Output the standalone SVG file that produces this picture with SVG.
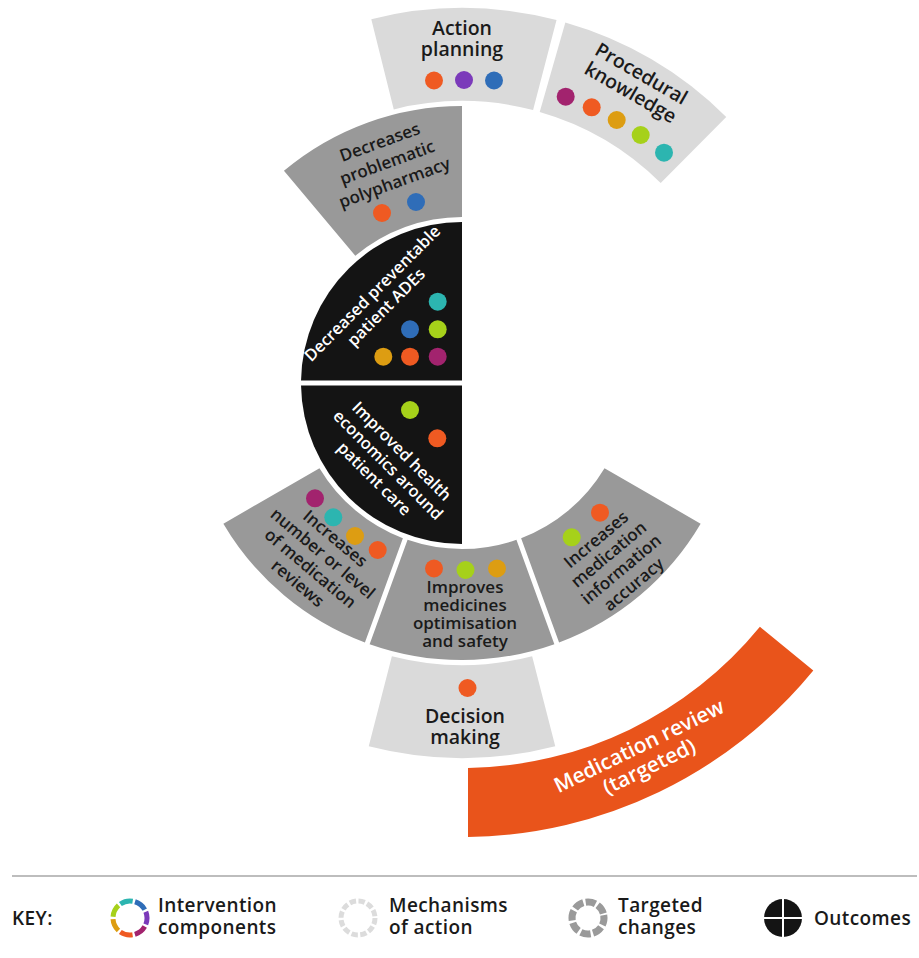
<svg xmlns="http://www.w3.org/2000/svg" width="919" height="958" viewBox="0 0 919 958">
  <style>
    text { font-family: "Open Sans", "Noto Sans", "Liberation Sans", sans-serif; font-weight: 600; text-anchor: middle; fill: #1a1a1a; }
    .mech { font-size: 19.5px; }
    .tgt { font-size: 17px; }
    .out { font-size: 16.5px; fill: #ffffff; }
    .comp { font-size: 21px; fill: #ffffff; }
    .key { font-size: 19px; letter-spacing: 0.4px; text-anchor: start; }
    .f-out { fill: #141414; }
    .f-tgt { fill: #999999; }
    .f-mech { fill: #dadada; }
    .f-comp { fill: #e9541b; }
    .or { fill: #ef5a22; } .pu { fill: #7b3aba; } .bl { fill: #2f6db8; }
    .mg { fill: #a2236e; } .am { fill: #dd9d12; } .li { fill: #a6d11a; } .te { fill: #2cb5b0; }
  </style>

  <!-- Outcomes (inner black half disc) -->
  <g id="outcome-ades">
    <path class="f-out" d="M462,380.5 L301.03,380.5 A161,161 0 0 1 462,222 Z"/>
    <g transform="translate(379,300) rotate(-45)">
      <text class="out" y="-3.8">Decreased preventable</text>
      <text class="out" y="15.7">patient ADEs</text>
    </g>
    <circle class="te" cx="437.7" cy="301.7" r="9"/>
    <circle class="bl" cx="410" cy="329.3" r="9"/>
    <circle class="li" cx="437.7" cy="329.3" r="9"/>
    <circle class="am" cx="383.3" cy="356.7" r="9"/>
    <circle class="or" cx="410" cy="356.7" r="9"/>
    <circle class="mg" cx="437.7" cy="356.7" r="9"/>
  </g>
  <g id="outcome-economics">
    <path class="f-out" d="M462,385.5 L462,544 A161,161 0 0 1 301.03,385.5 Z"/>
    <g transform="translate(388,465) rotate(45)">
      <text class="out" y="-13.8">Improved health</text>
      <text class="out" y="5.7">economics around</text>
      <text class="out" y="25.2">patient care</text>
    </g>
    <circle class="li" cx="410" cy="410" r="9"/>
    <circle class="or" cx="437.3" cy="438.3" r="9"/>
  </g>

  <!-- Targeted changes (dark grey ring) -->
  <g id="change-polypharmacy">
    <path class="f-tgt" d="M355.30,255.84 L283.94,170.82 A277,277 0 0 1 462,106 L462,217 A166,166 0 0 0 355.30,255.84 Z"/>
    <g transform="translate(387,162) rotate(-20)">
      <text class="tgt" y="-15.2">Decreases</text>
      <text class="tgt" y="6.3">problematic</text>
      <text class="tgt" y="27.8">polypharmacy</text>
    </g>
    <circle class="or" cx="382" cy="213" r="9"/>
    <circle class="bl" cx="416" cy="202" r="9"/>
  </g>
  <g id="change-review-level">
    <path class="f-tgt" d="M402.88,538.14 L364.92,642.45 A277,277 0 0 1 223.37,523.67 L319.49,468.17 A166,166 0 0 0 402.88,538.14 Z"/>
    <g transform="translate(316.5,561) rotate(40)">
      <text class="tgt" y="-23.5">Increases</text>
      <text class="tgt" y="-4">number or level</text>
      <text class="tgt" y="15.5">of medication</text>
      <text class="tgt" y="35">reviews</text>
    </g>
    <circle class="mg" cx="315" cy="498.3" r="9"/>
    <circle class="te" cx="333.3" cy="517.3" r="9"/>
    <circle class="am" cx="355" cy="536" r="9"/>
    <circle class="or" cx="377.7" cy="550" r="9"/>
  </g>
  <g id="change-optimisation">
    <path class="f-tgt" d="M516.42,539.85 L554.38,644.15 A277,277 0 0 1 369.62,644.15 L407.58,539.85 A166,166 0 0 0 516.42,539.85 Z"/>
    <text class="tgt" x="465" y="593">Improves</text>
    <text class="tgt" x="465" y="611">medicines</text>
    <text class="tgt" x="465" y="629">optimisation</text>
    <text class="tgt" x="465" y="647">and safety</text>
    <circle class="or" cx="434" cy="568.5" r="9"/>
    <circle class="li" cx="465.5" cy="570" r="9"/>
    <circle class="am" cx="497" cy="568.5" r="9"/>
  </g>
  <g id="change-accuracy">
    <path class="f-tgt" d="M604.51,468.17 L700.63,523.67 A277,277 0 0 1 559.08,642.45 L521.12,538.13 A166,166 0 0 0 604.51,468.17 Z"/>
    <g transform="translate(615,562) rotate(-40)">
      <text class="tgt" y="-23.5">Increases</text>
      <text class="tgt" y="-4">medication</text>
      <text class="tgt" y="15.5">information</text>
      <text class="tgt" y="35">accuracy</text>
    </g>
    <circle class="li" cx="571.7" cy="537.3" r="9"/>
    <circle class="or" cx="600" cy="512.7" r="9"/>
  </g>

  <!-- Mechanisms of action (light grey ring) -->
  <g id="mechanism-action-planning">
    <path class="f-mech" d="M393.78,109.38 L371.29,19.14 A375,375 0 0 1 556.54,20.11 L533.09,110.11 A282,282 0 0 0 393.78,109.38 Z"/>
    <text class="mech" x="462" y="34.5">Action</text>
    <text class="mech" x="462" y="56">planning</text>
    <circle class="or" cx="434" cy="80.5" r="9"/>
    <circle class="pu" cx="464" cy="80" r="9"/>
    <circle class="bl" cx="494" cy="80.5" r="9"/>
  </g>
  <g id="mechanism-procedural">
    <path class="f-mech" d="M539.72,111.91 L565.35,22.51 A375,375 0 0 1 726.23,116.90 L660.70,182.89 A282,282 0 0 0 539.72,111.91 Z"/>
    <g transform="translate(636,83) rotate(30)">
      <text class="mech" y="-3.95">Procedural</text>
      <text class="mech" y="17.55">knowledge</text>
    </g>
    <circle class="mg" cx="565.7" cy="96.7" r="9"/>
    <circle class="or" cx="591.7" cy="107.3" r="9"/>
    <circle class="am" cx="616.7" cy="120" r="9"/>
    <circle class="li" cx="640.7" cy="135" r="9"/>
    <circle class="te" cx="664" cy="152.7" r="9"/>
  </g>
  <g id="mechanism-decision">
    <path class="f-mech" d="M532.13,656.15 L555.26,746.23 A375,375 0 0 1 368.74,746.23 L391.87,656.15 A282,282 0 0 0 532.13,656.15 Z"/>
    <circle class="or" cx="467.5" cy="688" r="9"/>
    <text class="mech" x="465" y="722.5">Decision</text>
    <text class="mech" x="465" y="744">making</text>
  </g>

  <!-- Intervention component (orange band) -->
  <g id="component-medication-review">
    <path class="f-comp" d="M468,767.95 L468,836.96 A454,454 0 0 0 813.31,670.56 L759.91,626.86 A385,385 0 0 1 468,767.95 Z"/>
    <g transform="translate(644,756) rotate(-26)">
      <text class="comp" y="-4">Medication review</text>
      <text class="comp" y="19">(targeted)</text>
    </g>
  </g>

  <!-- Key -->
  <g id="key">
    <line x1="12" y1="876" x2="917" y2="876" stroke="#bdbdbd" stroke-width="2"/>
    <text class="key" x="12" y="925">KEY:</text>

    <g transform="translate(130,918)" fill="none" stroke-width="5">
      <circle r="17" stroke="#2cb5b0" stroke-dasharray="12.8 94" transform="rotate(-124.4)"/>
      <circle r="17" stroke="#2f6db8" stroke-dasharray="12.8 94" transform="rotate(-72.9)"/>
      <circle r="17" stroke="#7b3aba" stroke-dasharray="12.8 94" transform="rotate(-21.5)"/>
      <circle r="17" stroke="#a2236e" stroke-dasharray="12.8 94" transform="rotate(29.9)"/>
      <circle r="17" stroke="#ef5a22" stroke-dasharray="12.8 94" transform="rotate(81.3)"/>
      <circle r="17" stroke="#dd9d12" stroke-dasharray="12.8 94" transform="rotate(132.8)"/>
      <circle r="17" stroke="#a6d11a" stroke-dasharray="12.8 94" transform="rotate(184.2)"/>
    </g>
    <text class="key" x="158" y="911.5">Intervention</text>
    <text class="key" x="158" y="933.5">components</text>

    <circle cx="358" cy="918" r="17" fill="none" stroke="#dcdcdc" stroke-width="5" stroke-dasharray="6.4 2.5"/>
    <text class="key" x="389" y="911.5">Mechanisms</text>
    <text class="key" x="389" y="933.5">of action</text>

    <circle cx="588" cy="918" r="16" fill="none" stroke="#9a9a9a" stroke-width="7" stroke-dasharray="10 2.57" transform="rotate(-10 588 918)"/>
    <text class="key" x="618" y="911.5">Targeted</text>
    <text class="key" x="618" y="933.5">changes</text>

    <circle cx="783" cy="918" r="19" fill="#141414"/>
    <line x1="764" y1="918" x2="802" y2="918" stroke="#ffffff" stroke-width="2"/>
    <line x1="783" y1="899" x2="783" y2="937" stroke="#ffffff" stroke-width="2"/>
    <text class="key" x="814" y="925">Outcomes</text>
  </g>
</svg>
